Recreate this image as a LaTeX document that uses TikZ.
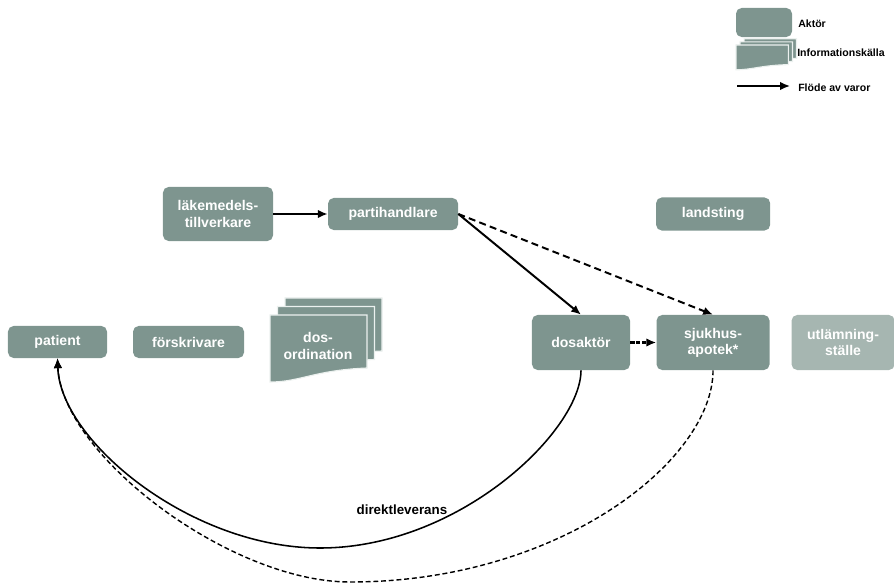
\documentclass[tikz,border=0pt]{standalone}
\usepackage{fontspec}
\setmainfont{Liberation Sans}
\usepackage{xcolor}
\usepackage{tikz}
\usetikzlibrary{positioning}
\usetikzlibrary{arrows.meta}

\definecolor{aktorgray}{RGB}{126,149,143}
\definecolor{aktorlight}{RGB}{166,182,177}
\definecolor{sheetline}{RGB}{236,241,239}

% three stacked sheets, #1,#2 = top left of the front sheet, #3/#4 = x/y scale
\newcommand{\docstack}[4]{%
\begin{scope}[shift={(#1,#2)}, xscale=#3, yscale=#4]
\foreach \o in {2,1,0}
  \filldraw[fill=aktorgray, draw=sheetline, line width=0.8pt] (7.5*\o,-8.5*\o) -- ++(97,0) -- ++(0,53) .. controls +(-52,2) and +(30,0) .. ++(-97,14) -- cycle;
\end{scope}}

\begin{document}
\begin{tikzpicture}[x=0.025cm, y=-0.025cm, on grid, actor/.style ={rounded corners=4pt, fill=aktorgray, text=white, align=center, inner sep=0pt, font=\bfseries\fontsize{10}{11.5}\selectfont}, flow/.style={-{Latex[length=7pt,width=6pt]}, line width=1.4pt}, dflow/.style={flow, dash pattern=on 5pt off 3pt}, legtext/.style={anchor=west, inner sep=0pt, font=\bfseries\fontsize{7.5}{9}\selectfont}]
\useasboundingbox (0,0) rectangle (894,583);

% legend
\node[actor, minimum width=1.4cm, minimum height=0.725cm] (legakt) at (764,22.5) {};
\node[legtext] (legakttxt) at (798,24) {Aktör};
\docstack{736}{45}{0.54}{0.37}
\node[legtext] (leginfotxt) at (797,53) {Informationskälla};
\coordinate (legA) at (737,86);
\coordinate (legB) at (790,86);
\draw[flow, line width=1.2pt] (legA) -- (legB);
\node[legtext] (legflow) at (798,88) {Flöde av varor};

% actors
\node[actor, minimum width=2.75cm, minimum height=1.35cm] (lak) at (218,214) {läkemedels-\\tillverkare};
\node[actor, minimum width=3.25cm, minimum height=0.8cm] (parti) [right=4.375cm of lak] {partihandlare};
\node[actor, minimum width=2.85cm, minimum height=0.825cm] (landst) [right=8cm of parti] {landsting};
\node[actor, minimum width=2.475cm, minimum height=0.8cm] (patient) at (57.5,342) {patient};
\node[actor, minimum width=2.775cm, minimum height=0.8cm] (forskr) [right=3.275cm of patient] {förskrivare};
\node[actor, minimum width=2.45cm, minimum height=1.375cm] (dosakt) at (581,342.5) {dosaktör};
\node[actor, minimum width=2.825cm, minimum height=1.375cm] (sjukhus) [right=3.3cm of dosakt] {sjukhus-\\apotek*};
\node[actor, fill=aktorlight, minimum width=2.575cm, minimum height=1.375cm] (utl) [right=3.25cm of sjukhus] {utlämning-\\ställe};

% information source
\docstack{270}{315}{1}{1}
\node[actor, fill=none] (dosord) at (318,346) {dos-\\ordination};

% flows
\coordinate (dirlow) at (320,548);
\coordinate (sjlow) at (350,582);
\draw[flow] (lak) -- (parti);
\draw[flow] (parti.east) -- (dosakt.north);
\draw[dflow] (parti.east) -- (sjukhus.north);
\draw[flow, line width=1.6pt, dash pattern=on 3pt off 1.2pt] (dosakt) -- (sjukhus);
\draw[flow, line width=1.1pt] (dosakt.south) .. controls +(0,60) and +(140,0) .. (dirlow) node[pos=0.67, anchor=south east, inner sep=0.5pt, font=\bfseries\fontsize{9.5}{11}\selectfont] (direkt) {direktleverans} .. controls +(-130,0) and +(2.5,82) .. (patient.south);
\draw[flow, line width=1pt, dash pattern=on 3.5pt off 2pt] (sjukhus.south) .. controls +(0,90) and +(210,0) .. (sjlow) .. controls +(-120,0) and +(4.5,97) .. (patient.south);
\end{tikzpicture}
\end{document}
